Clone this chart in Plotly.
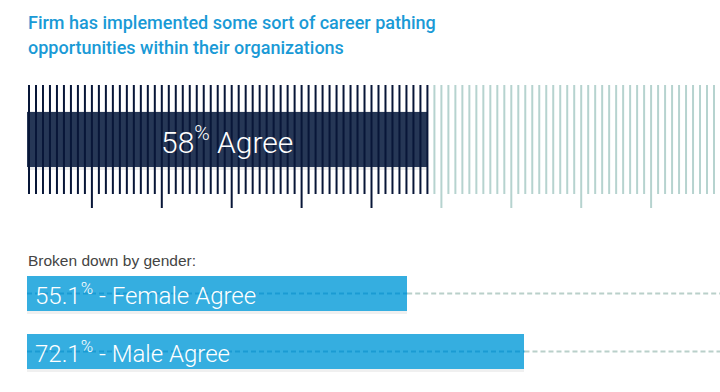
import plotly.graph_objects as go

# ---- data ----
title_lines = ["Firm has implemented some sort of career pathing",
               "opportunities within their organizations"]
overall_value = 58
overall_label = "Agree"
tick_count = 100
gender_header = "Broken down by gender:"
gender_labels = ["Female Agree", "Male Agree"]
gender_values = [55.1, 72.1]

# ---- styles ----
NAVY = "#1b2d4e"
NAVY_LINE = "#081638"
LIGHT_LINE = "#b6d3cf"
BLUE = "#35aee0"
BLUE_DASH = "#1a9bd3"
TITLE_BLUE = "#1a9ad6"
W, H = 720, 392

fig = go.Figure()

# tick "barcode" lines on secondary axis x2 (one line per percent)
dark_x, dark_y, light_x, light_y = [], [], [], []
for i in range(1, tick_count + 1):
    bottom = 208 if i % 10 == 0 else 194
    if i <= overall_value:
        dark_x += [i, i, None]; dark_y += [85, bottom, None]
    else:
        light_x += [i, i, None]; light_y += [85, bottom, None]
fig.add_trace(go.Scatter(x=light_x, y=light_y, xaxis="x2", mode="lines",
                         line=dict(color=LIGHT_LINE, width=2), hoverinfo="skip"))
fig.add_trace(go.Scatter(x=dark_x, y=dark_y, xaxis="x2", mode="lines",
                         line=dict(color=NAVY_LINE, width=2), hoverinfo="skip"))

# overall bar (shadow + bar)
fig.add_trace(go.Bar(x=[overall_value], y=[140.5], orientation="h", width=59,
                     marker=dict(color="rgba(0,0,0,0.07)", line=dict(width=0)),
                     hoverinfo="skip"))
fig.add_trace(go.Bar(x=[overall_value], y=[139.5], orientation="h", width=55,
                     marker=dict(color=NAVY, line=dict(width=0)), opacity=0.95,
                     hoverinfo="skip"))

# gender bars
gender_y = [293.5, 351.5]
for v, y in zip(gender_values, gender_y):
    fig.add_trace(go.Scatter(x=[v, 100.6], y=[y, y], mode="lines",
                             line=dict(color="#b9d0ca", width=2, dash="5px,3px"),
                             hoverinfo="skip"))
    fig.add_trace(go.Bar(x=[v], y=[y + 1.5], orientation="h", width=38,
                         marker=dict(color="rgba(0,0,0,0.06)", line=dict(width=0)),
                         hoverinfo="skip"))
    fig.add_trace(go.Bar(x=[v], y=[y], orientation="h", width=35,
                         marker=dict(color=BLUE, line=dict(width=0)),
                         hoverinfo="skip"))
    fig.add_trace(go.Scatter(x=[0, v], y=[y, y], mode="lines",
                             line=dict(color=BLUE_DASH, width=2, dash="5px,3px"),
                             hoverinfo="skip"))

annotations = []
for line, yc in zip(title_lines, [22.5, 47.5]):
    annotations.append(dict(xref="paper", yref="y", x=26 / W, y=yc,
                            xanchor="left", yanchor="middle", align="left",
                            text=line, showarrow=False,
                            font=dict(family="Roboto", size=18, color=TITLE_BLUE, weight=500)))
annotations.append(dict(xref="x", yref="y", x=overall_value / 2, y=140,
                        xanchor="center", yanchor="middle", showarrow=False,
                        text=f"{overall_value}<sup>%</sup> {overall_label}",
                        font=dict(family="Roboto", size=30, color="white", weight=300)))
annotations.append(dict(xref="paper", yref="y", x=26 / W, y=260,
                        xanchor="left", yanchor="middle", showarrow=False,
                        text=gender_header,
                        font=dict(family="Liberation Sans", size=15.5, color="#444444")))
for v, y, lab in zip(gender_values, gender_y, gender_labels):
    annotations.append(dict(xref="paper", yref="y", x=33 / W, y=y,
                            xanchor="left", yanchor="middle", showarrow=False,
                            text=f"{v}<sup>%</sup> - {lab}",
                            font=dict(family="Roboto", size=24, color="white", weight=300)))

fig.update_layout(
    width=W, height=H, margin=dict(l=0, r=0, t=0, b=0),
    paper_bgcolor="white", plot_bgcolor="white", showlegend=False,
    barmode="overlay", bargap=0,
    xaxis=dict(range=[-27 / 6.9, (W - 27) / 6.9], visible=False, fixedrange=True),
    xaxis2=dict(range=[-22 / 6.99, (W - 22) / 6.99], visible=False,
                overlaying="x", fixedrange=True),
    yaxis=dict(range=[H, 0], visible=False, fixedrange=True),
    annotations=annotations,
)

fig.write_html("out.html", config={"displayModeBar": False},
               post_script="document.body.style.margin='0';")
